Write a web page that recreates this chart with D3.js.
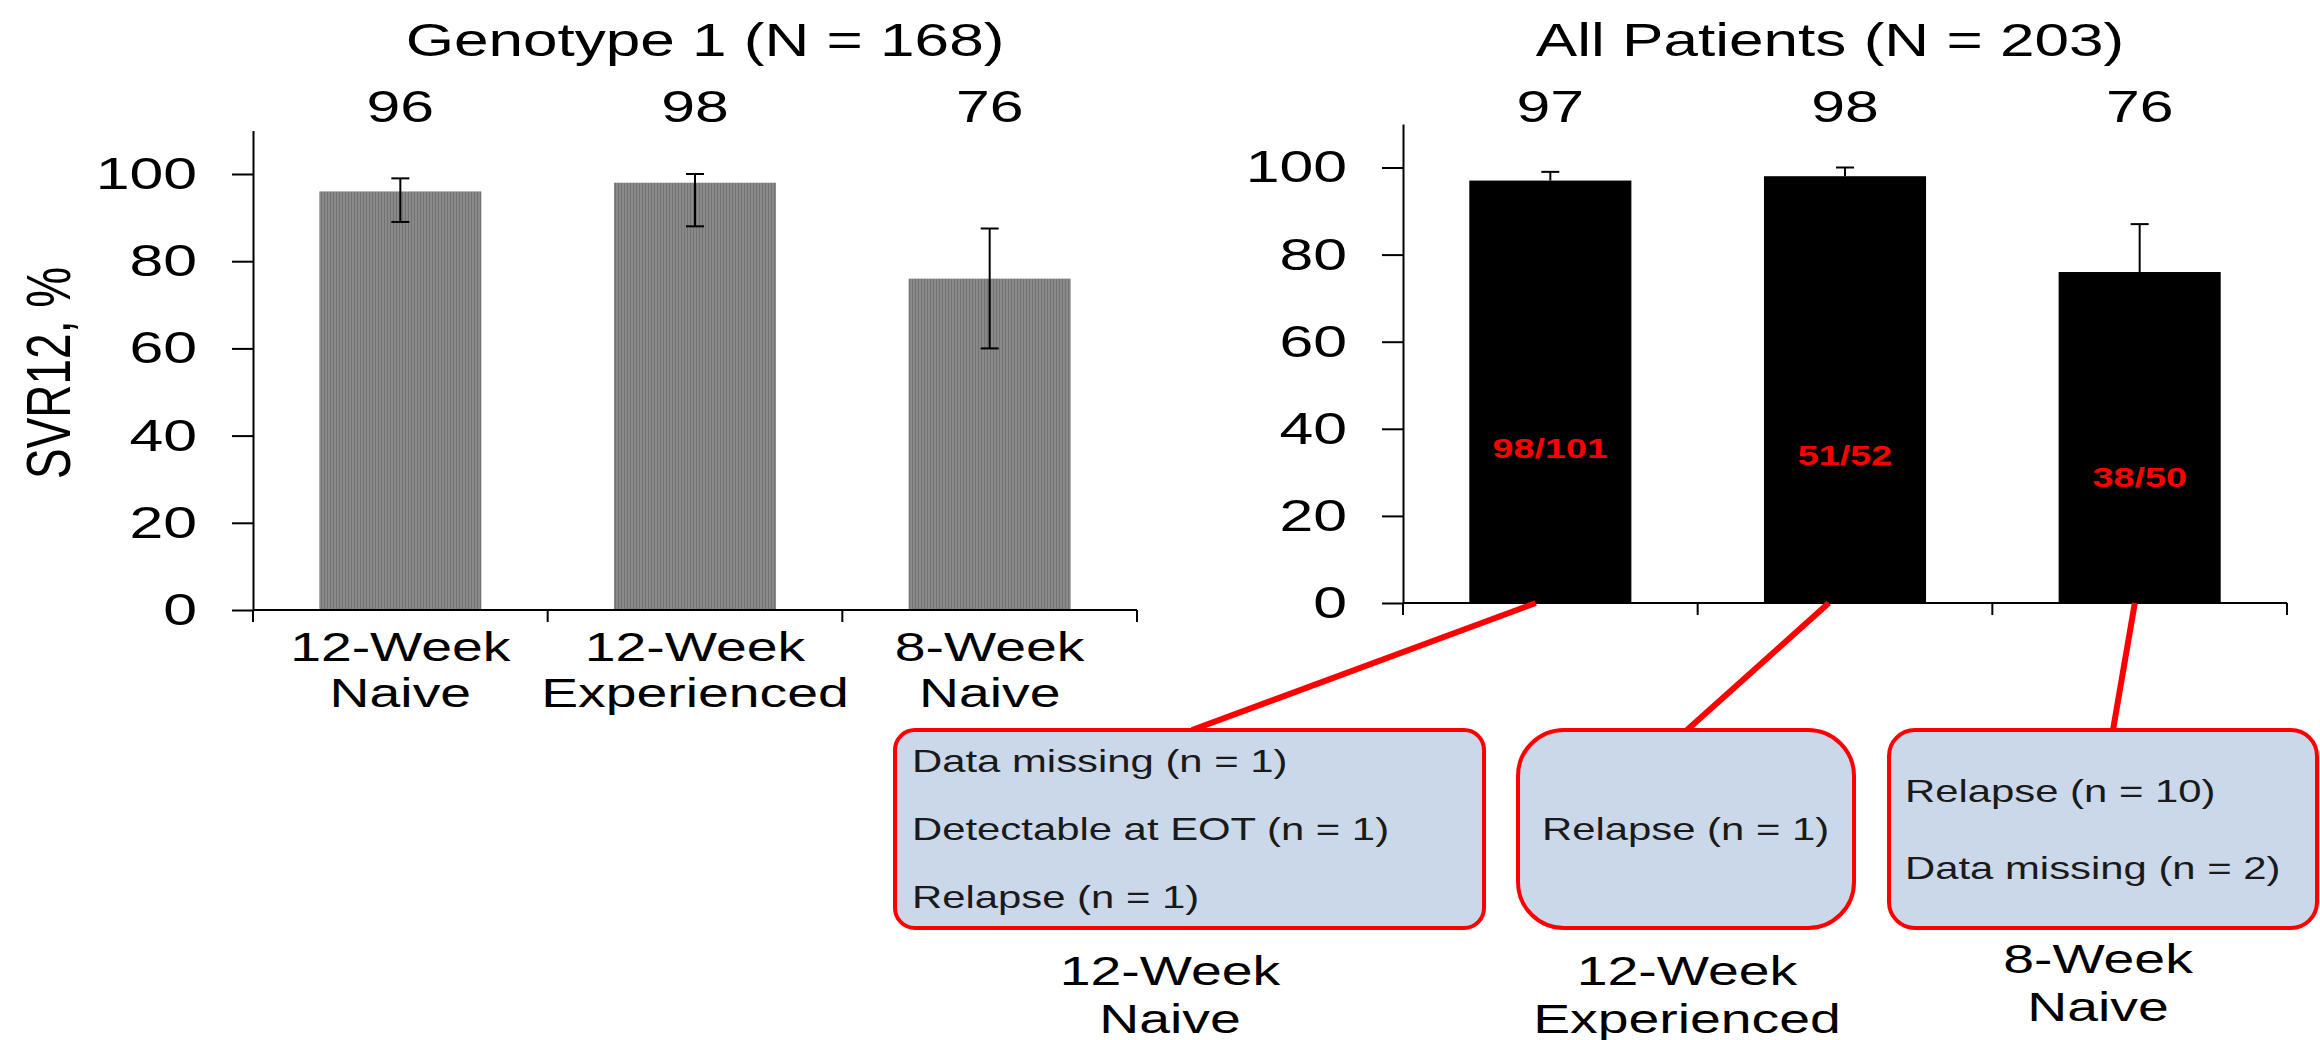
<!DOCTYPE html>
<html>
<head>
<meta charset="utf-8">
<script src="https://cdn.jsdelivr.net/npm/d3@7"></script>
<style>
  body { margin: 0; background: #fff; }
  svg { display: block; }
  text { font-family: "Liberation Sans", Arial, sans-serif; fill: #000; }
</style>
</head>
<body>
<svg width="2320" height="1040"></svg>
<script>
// data
var groupLines = [["12-Week", "Naive"], ["12-Week", "Experienced"], ["8-Week", "Naive"]];
var g1Values = [96, 98, 76];
var g1Low = [89, 88, 60];
var g1High = [99, 100, 87.5];
var allValues = [97, 98, 76];
var allHigh = [99, 100, 87];
var fractions = ["98/101", "51/52", "38/50"];
var yTicks = [0, 20, 40, 60, 80, 100];
var reasons = [
  ["Data missing (n = 1)", "Detectable at EOT (n = 1)", "Relapse (n = 1)"],
  ["Relapse (n = 1)"],
  ["Relapse (n = 10)", "Data missing (n = 2)"]
];

var svg = d3.select("svg"),
    SX = 1.35; // the source picture is stretched sideways

svg.append("rect").attr("width", 2320).attr("height", 1040).attr("fill", "#fff");

var pat = svg.append("defs").append("pattern")
    .attr("id", "stripes").attr("width", 3).attr("height", 4)
    .attr("patternUnits", "userSpaceOnUse");
pat.append("rect").attr("width", 3).attr("height", 4).attr("fill", "#898989");
pat.append("rect").attr("width", 1).attr("height", 4).attr("fill", "#737373");

function label(parent, x, y, str, size, anchor) {
  return parent.append("text")
      .attr("transform", "translate(" + x + "," + y + ") scale(" + SX + ",1)")
      .attr("text-anchor", anchor || "middle")
      .style("font-size", size + "px")
      .text(str);
}

function panel(o) {
  var g = svg.append("g");
  var idx = d3.range(o.values.length);

  var x = d3.scaleBand().domain(idx).range([o.left, o.right])
      .paddingInner(0.45).paddingOuter(0.225);
  var y = d3.scaleLinear().domain([0, 110]).range([o.base, o.base - 110 * o.unit]);

  label(g, o.titleX, 56, o.title, 46);

  // bars
  g.selectAll(".bar").data(idx).enter().append("rect")
      .attr("x", function(i) { return x(i); })
      .attr("y", function(i) { return y(o.values[i]); })
      .attr("width", x.bandwidth())
      .attr("height", function(i) { return y(0) - y(o.values[i]); })
      .attr("fill", o.fill);

  // error bars
  idx.forEach(function(i) {
    var cx = x(i) + x.bandwidth() / 2,
        lo = o.low ? o.low[i] : o.values[i];
    g.append("line").attr("x1", cx).attr("x2", cx)
        .attr("y1", y(lo)).attr("y2", y(o.high[i]))
        .attr("stroke", "#000").attr("stroke-width", 2);
    g.append("line").attr("x1", cx - 9).attr("x2", cx + 9)
        .attr("y1", y(o.high[i])).attr("y2", y(o.high[i]))
        .attr("stroke", "#000").attr("stroke-width", 2);
    if (o.low) {
      g.append("line").attr("x1", cx - 9).attr("x2", cx + 9)
          .attr("y1", y(lo)).attr("y2", y(lo))
          .attr("stroke", "#000").attr("stroke-width", 2);
    }
    label(g, cx, 122, o.values[i], 45);
  });

  // y axis
  var ya = g.append("g").attr("transform", "translate(" + o.left + ",0)")
      .call(d3.axisLeft(y).tickValues(yTicks).tickSize(21).tickSizeOuter(0));
  ya.attr("font-size", null).attr("font-family", null);
  ya.select(".domain").attr("stroke-width", 2);
  ya.selectAll(".tick line").attr("stroke-width", 2);
  ya.selectAll(".tick text")
      .attr("x", -56 / SX)
      .attr("transform", "scale(" + SX + ",1)")
      .style("font-size", "45px")
      .attr("fill", "#000");

  // x axis with ticks between the groups
  g.append("line").attr("x1", o.left).attr("x2", o.right)
      .attr("y1", o.base).attr("y2", o.base)
      .attr("stroke", "#000").attr("stroke-width", 2);
  d3.range(idx.length + 1).forEach(function(k) {
    var tx = o.left + k * x.step();
    g.append("line").attr("x1", tx).attr("x2", tx)
        .attr("y1", o.base).attr("y2", o.base + 12)
        .attr("stroke", "#000").attr("stroke-width", 2);
  });

  return {g: g, x: x, y: y};
}

// left panel: genotype 1
var left = panel({
  left: 253, right: 1137, base: 610, unit: 4.36,
  title: "Genotype 1 (N = 168)", titleX: 705,
  values: g1Values, low: g1Low, high: g1High, fill: "url(#stripes)"
});

groupLines.forEach(function(lines, i) {
  var cx = left.x(i) + left.x.bandwidth() / 2;
  label(left.g, cx, 661, lines[0], 41);
  label(left.g, cx, 707, lines[1], 41);
});

svg.append("text")
    .attr("transform", "translate(70,373) scale(" + SX + ",1) rotate(-90)")
    .attr("text-anchor", "middle")
    .style("font-size", "46px")
    .text("SVR12, %");

// right panel: all patients
var right = panel({
  left: 1403, right: 2287, base: 603, unit: 4.355,
  title: "All Patients (N = 203)", titleX: 1830,
  values: allValues, low: null, high: allHigh, fill: "#000"
});

var fracAt = [35.5, 34, 29];
fractions.forEach(function(f, i) {
  var cx = right.x(i) + right.x.bandwidth() / 2;
  label(right.g, cx, right.y(fracAt[i]) + 10, f, 28)
      .style("font-weight", "bold")
      .style("fill", "#ff0000");
});

// call-out boxes under the right panel
var boxes = [
  {x0: 895, x1: 1484, r: 20, from: 0.41, anchorX: 1192, textX: 912, gap: 68, labelX: 1170, labelY: 985},
  {x0: 1518, x1: 1854, r: 46, from: 0.40, anchorX: 1687, textX: 1542, gap: 68, labelX: 1687, labelY: 985},
  {x0: 1889, x1: 2317, r: 26, from: 0.47, anchorX: 2113, textX: 1905, gap: 77, labelX: 2098, labelY: 973}
];
var boxTop = 730, boxBottom = 928;

boxes.forEach(function(b, i) {
  svg.append("line")
      .attr("x1", right.x(i) + right.x.bandwidth() * b.from).attr("y1", right.y(0))
      .attr("x2", b.anchorX).attr("y2", boxTop)
      .attr("stroke", "#ff0000").attr("stroke-width", 6);
});

boxes.forEach(function(b, i) {
  svg.append("rect")
      .attr("x", b.x0).attr("y", boxTop)
      .attr("width", b.x1 - b.x0).attr("height", boxBottom - boxTop)
      .attr("rx", b.r).attr("ry", b.r)
      .attr("fill", "#cbd8ea").attr("stroke", "#ff0000").attr("stroke-width", 4);

  var lines = reasons[i],
      mid = (boxTop + boxBottom) / 2 + 11,
      y0 = mid - (lines.length - 1) * b.gap / 2;
  lines.forEach(function(t, k) {
    label(svg, b.textX, y0 + k * b.gap, t, 31, "start").style("fill", "#1a1a1a");
  });

  label(svg, b.labelX, b.labelY, groupLines[i][0], 41);
  label(svg, b.labelX, b.labelY + 48, groupLines[i][1], 41);
});
</script>
</body>
</html>
